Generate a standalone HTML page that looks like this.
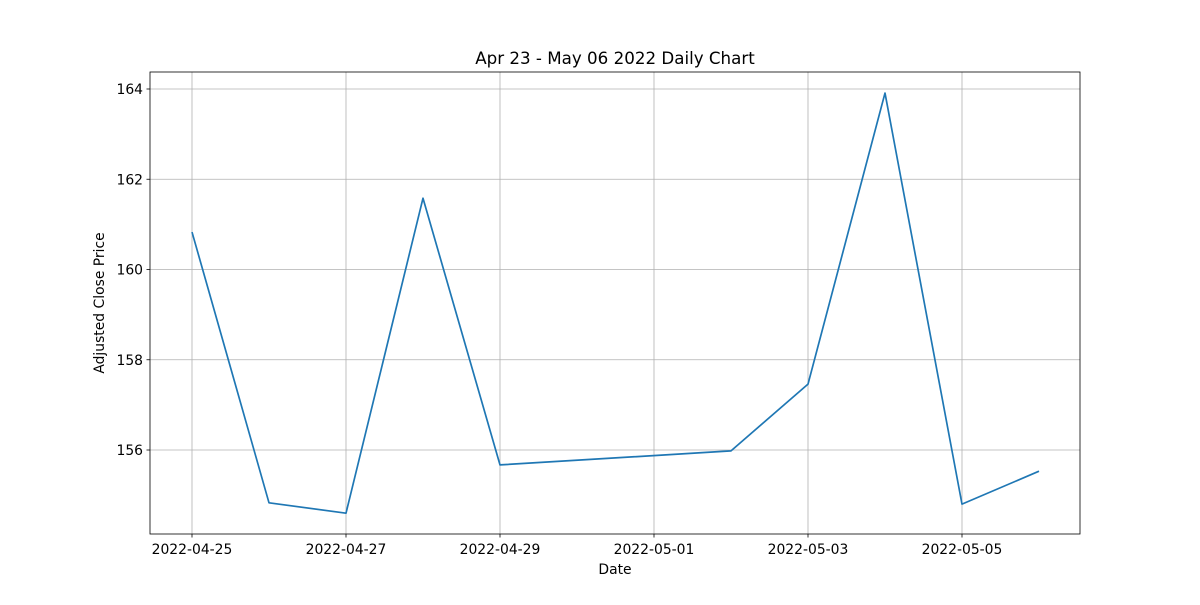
<!DOCTYPE html>
<html><head><meta charset="utf-8"><style>
body{margin:0;background:#fff;}
svg text{font-family:"DejaVu Sans","Liberation Sans",sans-serif;fill:#000;}
</style></head><body>
<svg id="chart" width="1200" height="600" xmlns="http://www.w3.org/2000/svg"></svg>
<script>
const dates = ["2022-04-25","2022-04-26","2022-04-27","2022-04-28","2022-04-29","2022-05-02","2022-05-03","2022-05-04","2022-05-05","2022-05-06"];
const prices = [160.83,154.83,154.60,161.58,155.67,155.98,157.46,163.91,154.80,155.53];
const xTicks = ["2022-04-25","2022-04-27","2022-04-29","2022-05-01","2022-05-03","2022-05-05"];
const yTicks = [156,158,160,162,164];

const L=150,R=1080,T=72,B=534;
const day0 = Date.UTC(2022,3,25);
function dnum(s){const p=s.split('-');return (Date.UTC(+p[0],+p[1]-1,+p[2])-day0)/86400000;}
function xs(s){return 192+dnum(s)*77;}
function ys(v){return 450-(v-156)*45.125;}
const NS="http://www.w3.org/2000/svg";
const svg=document.getElementById('chart');
function mk(tag,attrs,parent){const e=document.createElementNS(NS,tag);for(const k in attrs)e.setAttribute(k,attrs[k]);(parent||svg).appendChild(e);return e;}

const grid=mk('g',{});


xTicks.forEach(t=>{
  const x=xs(t);
  const gl=mk('line',{x1:x,x2:x,y1:T,y2:B,stroke:'#b0b0b0','stroke-width':0.8},grid);
  
  
  mk('line',{x1:x,x2:x,y1:B,y2:B+3.5,stroke:'#000','stroke-width':0.8});
  const tx=mk('text',{x:x,y:B+20,'text-anchor':'middle','font-size':13.9});
  tx.textContent=t;
  
  
});
yTicks.forEach(v=>{
  const y=ys(v);
  const gl=mk('line',{x1:L,x2:R,y1:y,y2:y,stroke:'#b0b0b0','stroke-width':0.8},grid);
  
  
  mk('line',{x1:L-3.5,x2:L,y1:y,y2:y,stroke:'#000','stroke-width':0.8});
  const tx=mk('text',{x:L-7,y:y+5,'text-anchor':'end','font-size':13.9});
  tx.textContent=v;
  
  
});

const pts=dates.map((d,i)=>xs(d)+','+ys(prices[i])).join(' ');
const line=mk('polyline',{points:pts,fill:'none',stroke:'#1f77b4','stroke-width':1.7,'stroke-linejoin':'round'});



const frame=mk('rect',{x:L,y:T,width:R-L,height:B-T,fill:'none',stroke:'#000','stroke-width':0.8});



const title=mk('text',{x:615,y:64,'text-anchor':'middle','font-size':16.7});
title.textContent='Apr 23 - May 06 2022 Daily Chart';


const xl=mk('text',{x:615,y:574,'text-anchor':'middle','font-size':13.9});
xl.textContent='Date';


const yl=mk('text',{x:104,y:303,'text-anchor':'middle','font-size':13.9,transform:'rotate(-90 104 303)'});
yl.textContent='Adjusted Close Price';


</script>
</body></html>
